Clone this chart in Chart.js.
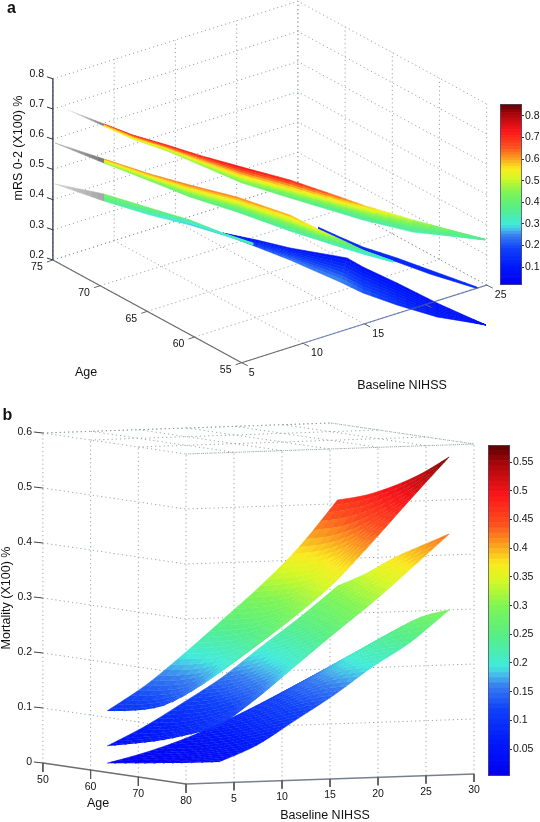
<!DOCTYPE html>
<html><head><meta charset="utf-8">
<style>html,body{margin:0;padding:0;background:#fff;width:540px;height:822px;overflow:hidden}canvas{position:absolute;display:block}</style>
<script src="https://cdn.jsdelivr.net/npm/chart.js@4"></script>
</head><body>
<canvas id="panelA" width="540" height="400" style="left:0;top:0"></canvas>
<canvas id="panelB" width="540" height="422" style="left:0;top:400px"></canvas>
<canvas id="barA" width="40" height="181" style="left:500px;top:104px"></canvas>
<canvas id="barB" width="52" height="331" style="left:488px;top:445px"></canvas>
<script>
// ---------- panel a: axes ----------
const aNihssGrid=[5,10,15,20,25];
const aNihssLabels=[5,10,15,25];
const aAgeTicks=[55,60,65,70,75];
const aValueTicks=[0.2,0.3,0.4,0.5,0.6,0.7,0.8];
const aBarTicks=[0.1,0.2,0.3,0.4,0.5,0.6,0.7,0.8];
const aBarRange=[0.017,0.855];
// ---------- panel a: top sheet ----------
const a1UpN=[6.79,6.09,6.33,7.33,7.82,9.93,13.02,14.90,18.98,24.86];
const a1UpAge=[71.91,67.93,64.64,62.44,58.63,56.28,55,55,55,55];
const a1UpV=[.68,.72,.74,.73,.75,.72,.646,.595,.493,.354];
const a1LoN=[10.32,12.0,13.5,14.44,15.76,18.25,20.55,21.07,22.5,24.9];
const a1LoAge=[76.5,75.6,73.9,71.67,68.93,67.07,64.76,63.0,59.57,55.04];
const a1LoV=[.55,.5,.47,.45,.42,.37,.33,.33,.33,.35];
const a1Tip=[5,73.4,.724];
// ---------- panel a: middle sheet ----------
const a2UpN=[5.19,5.85,6.58,8.16,10.04,11.59,14.07,16.79,19.59];
const a2UpAge=[69.83,65.82,62.53,59.59,56.43,55.47,56.36,57.45,57.90];
const a2UpV=[.62,.63,.64,.63,.6,.55,.47,.38,.30];
const a2LoN=[9.10,11.20,12.89,14.76,16.26,16.85,17.61,18.70,19.49];
const a2LoAge=[74.91,72.76,70.72,68.16,64.50,62.30,60.95,59.93,57.78];
const a2LoV=[.47,.42,.38,.35,.33,.33,.32,.30,.30];
const a2Tip=[4.18,73.71,.62];
const a2BlueUpN=[23.81,24.0,24.24,24.95,25.51,26.32];
const a2BlueUpAge=[71.33,69.24,67.11,64.43,61.67,57.75];
const a2BlueLoN=[23.62,23.71,23.86,24.57,25.13,26.18];
const a2BlueLoAge=[71.08,68.87,66.62,63.94,61.18,57.56];
const a2BlueV=[.13,.13,.13,.13,.13,.13];
// ---------- panel a: lower sheet ----------
const a3UpN=[7.31,8.64,10.71,11.75,12.64];
const a3UpAge=[72.58,69.44,67.89,65.75,63.72];
const a3UpV=[.43,.42,.38,.36,.35];
const a3LoN=[8.65,11.41,13.39,13.86,13.02];
const a3LoAge=[74.32,73.04,71.36,68.47,64.21];
const a3LoV=[.36,.30,.27,.28,.33];
const a3Tip=[5.16,74.98,.45];
const a3BlueUpN=[19.77,20.86,21.81,24.09,24.06,24.30,24.46,24.90];
const a3BlueUpAge=[76.15,73.97,71.70,68.61,66.88,63.59,59.57,54.95];
const a3BlueUpV=[.08,.08,.08,.07,.07,.07,.07,.07];
const a3BlueLoN=[19.11,16.76,16.09,16.01,17.30,19.63,22.28,24.90];
const a3BlueLoAge=[75.29,68.64,64.27,58.87,58.11,57.54,56.73,54.95];
const a3BlueLoV=[.1,.2,.24,.26,.22,.16,.1,.07];
// ---------- panel b: axes ----------
const bNihssTicks=[5,10,15,20,25,30];
const bAgeTicks=[50,60,70,80];
const bValueTicks=[0,0.1,0.2,0.3,0.4,0.5,0.6];
const bBarTicks=[0.05,0.1,0.15,0.2,0.25,0.3,0.35,0.4,0.45,0.5,0.55];
const bBarRange=[0.003,0.58];
// ---------- panel b: surfaces, one row per age, one column per NIHSS ----------
const bNihss=[5,9,13,17,21,25,29];
const bAges=[53.4,59.25,65.1,70.95,76.8];
const b1=[[.096,.140,.195,.254,.314,.382,.465],
          [.104,.148,.205,.265,.326,.396,.481],
          [.120,.166,.223,.283,.345,.422,.505],
          [.153,.201,.255,.315,.384,.459,.535],
          [.1945,.243,.294,.351,.423,.499,.573]];
const b2=[[.032,.066,.107,.150,.2025,.253,.3085],
          [.044,.074,.119,.167,.225,.279,.338],
          [.058,.089,.139,.191,.251,.310,.374],
          [.076,.111,.163,.218,.278,.339,.404],
          [.0965,.147,.203,.259,.313,.372,.433]];
const b3=[[.001,.018,.040,.068,.100,.134,.167],
          [.0085,.023,.053,.088,.129,.169,.205],
          [.016,.033,.067,.109,.158,.202,.2416],
          [.024,.046,.086,.132,.182,.226,.2745],
          [.033,.0615,.1045,.1475,.196,.239,.295]];

// ---------- projections ----------
const projA=(n,a,v)=>({x:241.7+12.25*(n-5)-9.44*(a-55),y:362.7-3.88*(n-5)-5.135*(a-55)-302*(v-.2)});
const projB=(n,a,v)=>({x:186+9.6*n+4.77*(a-80),y:784-.333*n+.7*(a-80)-550*v});
const FONT='"Liberation Sans",Arial,sans-serif';
const stops=[[0,0,0,240],[.1,0,25,250],[.2,15,65,250],[.27,55,125,240],[.30,70,180,235],[.33,65,235,220],[.42,85,238,135],[.51,125,245,85],[.59,215,248,35],[.64,250,235,30],[.69,250,170,30],[.76,252,80,30],[.85,250,20,25],[.94,170,8,10],[1,90,0,0]];
function jet(f){f=Math.max(0,Math.min(1,f));let i=0;while(i<stops.length-2&&f>stops[i+1][0])i++;const A=stops[i],B=stops[i+1],t=(f-A[0])/(B[0]-A[0]);
  return `rgb(${[1,2,3].map(k=>Math.round(A[k]+(B[k]-A[k])*t)).join(',')})`;}
function cr(arr,t){const L=arr.length-1;if(L===0)return arr[0];const i=Math.min(L-1,Math.floor(t)),u=t-i;
  const p0=arr[Math.max(0,i-1)],p1=arr[i],p2=arr[i+1],p3=arr[Math.min(L,i+2)];
  return .5*(2*p1+(p2-p0)*u+(2*p0-5*p1+4*p2-p3)*u*u+(3*p1-p0-3*p2+p3)*u*u*u);}
function lin(arr,t){const L=arr.length-1,i=Math.min(L-1,Math.floor(t)),u=t-i;return arr[i]+(arr[i+1]-arr[i])*u;}
const line=(pts,color,width,dash)=>({data:pts,showLine:true,pointRadius:0,borderColor:color,borderWidth:width,borderDash:dash||[],fill:false,tension:0,borderCapStyle:'butt'});
const cell=(pts,color)=>({data:pts,showLine:true,pointRadius:0,borderColor:color,backgroundColor:color,borderWidth:.6,fill:'shape',tension:0});
function mesh(out,rows,proj,range,sAcross,sAlong,smooth){
  const ip=smooth?cr:lin;
  const R=rows.length-1,C=rows[0].n.length-1,g=[];
  for(let i=0;i<=R*sAcross;i++){const ti=i/sAcross,row=[];
    for(let j=0;j<=C*sAlong;j++){const tj=j/sAlong;
      const ns=rows.map(r=>ip(r.n,tj)),as=rows.map(r=>ip(r.a,tj)),vs=rows.map(r=>ip(r.v,tj));
      const n=ip(ns,ti),a=ip(as,ti),v=ip(vs,ti);row.push({p:proj(n,a,v),v});}
    g.push(row);}
  for(let i=0;i<g.length-1;i++)for(let j=0;j<g[0].length-1;j++){
    const q=[g[i][j],g[i][j+1],g[i+1][j+1],g[i+1][j]];
    const v=(q[0].v+q[1].v+q[2].v+q[3].v)/4;
    out.push(cell(q.map(o=>o.p),jet((v-range[0])/(range[1]-range[0]))));}
}
function greyTip(out,tip,up,lo,light,dark){const S=8;
  for(let k=0;k<S;k++){const f=(k+.5)/S,t0=k/S,t1=(k+1)/S,m=(a,b,t)=>a+(b-a)*t;
    const P=(e,t)=>projA(m(tip[0],e[0],t),m(tip[1],e[1],t),m(tip[2],e[2],t));
    const g=Math.round(m(light,dark,f));
    out.push(cell([P(up,t0),P(up,t1),P(lo,t1),P(lo,t0)],`rgb(${g},${g},${g})`));}
}
const edgeRows=(uN,uA,uV,lN,lA,lV)=>[{n:uN,a:uA,v:uV},{n:lN,a:lA,v:lV}];
const first=(n,a,v)=>[n[0],a[0],v[0]];
const labelPlugin=list=>({id:'labels',afterDatasetsDraw(c){const x=c.ctx,sx=c.scales.x,sy=c.scales.y;x.save();
  list.forEach(l=>{x.font=l.font;x.fillStyle='#111';x.textAlign=l.align||'center';x.textBaseline='middle';
    const px=sx.getPixelForValue(l.x),py=sy.getPixelForValue(l.y);
    if(l.rot){x.save();x.translate(px,py);x.rotate(l.rot);x.fillText(l.t,0,0);x.restore();}else x.fillText(l.t,px,py);});x.restore();}});
function panel(id,datasets,yRange,labels){
  new Chart(document.getElementById(id),{type:'scatter',data:{datasets:datasets.slice().reverse()},plugins:[labelPlugin(labels)],
   options:{responsive:false,animation:false,devicePixelRatio:1,events:[],layout:{padding:0},
    plugins:{legend:{display:false},tooltip:{enabled:false},title:{display:false}},
    scales:{x:{type:'linear',min:0,max:540,display:false},y:{type:'linear',min:yRange[0],max:yRange[1],reverse:true,display:false}}}});
}
const GRID='rgba(140,150,155,.85)',DOT=[1.2,3];
const f1=v=>v.toFixed(1);
// ---------- build panel a ----------
(function(){const d=[],L=[];const P=projA,F=`10.5px ${FONT}`,T=`12.5px ${FONT}`;
  aValueTicks.forEach(v=>{d.push(line([P(5,75,v),P(25,75,v),P(25,55,v)],GRID,1,DOT));});
  aNihssGrid.forEach(n=>{d.push(line([P(n,75,.2),P(n,75,.8)],GRID,1,DOT));d.push(line([P(n,55,.2),P(n,75,.2)],GRID,1,DOT));});
  aAgeTicks.forEach(a=>{d.push(line([P(25,a,.2),P(25,a,.8)],GRID,1,DOT));d.push(line([P(5,a,.2),P(25,a,.2)],GRID,1,DOT));});
  greyTip(d,a1Tip,first(a1UpN,a1UpAge,a1UpV),first(a1LoN,a1LoAge,a1LoV),238,125);
  mesh(d,edgeRows(a1UpN,a1UpAge,a1UpV,a1LoN,a1LoAge,a1LoV),P,aBarRange,8,4,false);
  mesh(d,edgeRows(a2BlueUpN,a2BlueUpAge,a2BlueV,a2BlueLoN,a2BlueLoAge,a2BlueV),P,aBarRange,1,4,false);
  greyTip(d,a2Tip,first(a2UpN,a2UpAge,a2UpV),first(a2LoN,a2LoAge,a2LoV),185,118);
  mesh(d,edgeRows(a2UpN,a2UpAge,a2UpV,a2LoN,a2LoAge,a2LoV),P,aBarRange,8,4,false);
  mesh(d,edgeRows(a3BlueUpN,a3BlueUpAge,a3BlueUpV,a3BlueLoN,a3BlueLoAge,a3BlueLoV),P,aBarRange,8,4,false);
  greyTip(d,a3Tip,first(a3UpN,a3UpAge,a3UpV),first(a3LoN,a3LoAge,a3LoV),210,165);
  mesh(d,edgeRows(a3UpN,a3UpAge,a3UpV,a3LoN,a3LoAge,a3LoV),P,aBarRange,6,4,false);
  d.push(line([P(5,75,.2),P(5,75,.8)],'#2c3448',1.3));
  d.push(line([P(5,75,.2),P(5,55,.2)],'#6b6b6b',1.2));
  d.push(line([P(5,55,.2),P(10,55,.2)],'#6b6b6b',1.2));
  d.push(line([P(10,55,.2),P(25,55,.2)],'rgba(70,95,165,.75)',1.2));
  aValueTicks.forEach(v=>{const p=P(5,75,v);d.push(line([{x:p.x-6,y:p.y-2},p],'#333',1));L.push({t:f1(v),x:44,y:p.y-5,align:'right',font:F});});
  aAgeTicks.forEach(a=>{const p=P(5,a,.2);d.push(line([{x:p.x-6,y:p.y+2},p],'#666',1));L.push({t:String(a),x:p.x-16,y:p.y+7.5,font:F});});
  aNihssGrid.forEach(n=>{const p=P(n,55,.2);d.push(line([p,{x:p.x+6,y:p.y+3}],'#666',1));});
  aNihssLabels.forEach(n=>{const p=P(n,55,.2);L.push({t:String(n),x:p.x+(n===5?10:14),y:p.y+10,font:F});});
  L.push({t:'a',x:11.5,y:8.5,font:`bold 16px ${FONT}`});
  L.push({t:'mRS 0-2 (X100) %',x:19,y:148,rot:-Math.PI/2,font:T});
  L.push({t:'Age',x:86,y:373,font:T});
  L.push({t:'Baseline NIHSS',x:402,y:386,font:T});
  panel('panelA',d,[0,400],L);
})();
// ---------- build panel b ----------
(function(){const d=[],L=[];const P=projB,F=`10.5px ${FONT}`,T=`12.5px ${FONT}`;
  bValueTicks.forEach(v=>{if(v>0)d.push(line([P(0,50,v),P(0,80,v),P(30,80,v)],GRID,1,DOT));});
  bAgeTicks.forEach(a=>{d.push(line([P(0,a,0),P(0,a,.6)],GRID,1,DOT));d.push(line([P(0,a,.6),P(30,a,.6)],GRID,1,DOT));});
  bNihssTicks.forEach(n=>{d.push(line([P(n,80,0),P(n,80,.6)],GRID,1,DOT));d.push(line([P(n,50,.6),P(n,80,.6)],GRID,1,DOT));});
  d.push(line([P(0,50,.6),P(30,50,.6),P(30,80,.6)],GRID,1,DOT));
  [b3,b2,b1].forEach(tb=>{const rows=bAges.map((a,i)=>({n:bNihss,a:bNihss.map(()=>a),v:tb[i]}));mesh(d,rows,P,bBarRange,3,6,true);});
  d.push(line([P(0,50,0),P(0,80,0)],'#6e6e6e',1.3));
  d.push(line([P(0,80,0),P(30,80,0)],'#77808f',1.3));
  bValueTicks.forEach(v=>{const p=P(0,50,v);d.push(line([{x:p.x-9,y:p.y-1},p],'#444',1));L.push({t:v===0?'0':f1(v),x:32,y:p.y-1,align:'right',font:F});});
  bAgeTicks.forEach(a=>{const p=P(0,a,0);d.push(line([p,{x:p.x,y:p.y+9}],'#555',1));L.push({t:String(a),x:p.x,y:p.y+17,font:F});});
  bNihssTicks.forEach(n=>{const p=P(n,80,0);d.push(line([p,{x:p.x,y:p.y+8}],'#555',1));L.push({t:String(n),x:p.x,y:p.y+16.5,font:F});});
  L.push({t:'b',x:7.5,y:415.5,font:`bold 16px ${FONT}`});
  L.push({t:'Mortality (X100) %',x:7,y:598,rot:-Math.PI/2,font:T});
  L.push({t:'Age',x:98,y:804,font:T});
  L.push({t:'Baseline NIHSS',x:325,y:816,font:T});
  panel('panelB',d,[400,822],L);
})();
// ---------- colour bars ----------
function colorBar(id,range,tickVals,barW,fmt){
  const N=64,ds=[];
  for(let i=0;i<N;i++){const lo=range[0]+(range[1]-range[0])*i/N,hi=range[0]+(range[1]-range[0])*(i+1)/N;
    ds.push({data:[[lo,hi]],backgroundColor:jet((i+.5)/N),borderWidth:0,barPercentage:1,categoryPercentage:1,grouped:false});}
  const cv=document.getElementById(id);
  new Chart(cv,{type:'bar',data:{labels:[''],datasets:ds},
   plugins:[{id:'frame',afterDatasetsDraw(c){const a=c.chartArea,x=c.ctx;x.save();x.strokeStyle='rgba(85,75,115,.75)';x.lineWidth=1;x.strokeRect(a.left+.5,a.top+.5,a.width-1,a.height-1);x.restore();}}],
   options:{responsive:false,animation:false,devicePixelRatio:1,events:[],layout:{padding:0},
    plugins:{legend:{display:false},tooltip:{enabled:false}},
    scales:{x:{display:false,grid:{display:false}},
     y:{position:'right',min:range[0],max:range[1],border:{display:false},
        grid:{drawOnChartArea:false,drawTicks:true,tickLength:2,color:'#333'},
        afterBuildTicks(s){s.ticks=tickVals.map(v=>({value:v}));},
        afterFit(s){s.width=cv.width-barW;s.paddingTop=0;s.paddingBottom=0;},
        ticks:{autoSkip:false,padding:1,color:'#111',font:{family:'"Liberation Sans"',size:10.5},callback:v=>fmt(v)}}}}});
}
colorBar('barA',aBarRange,aBarTicks,22,v=>String(+v.toFixed(1)));
colorBar('barB',bBarRange,bBarTicks,22,v=>String(+v.toFixed(2)));
</script>
</body></html>
